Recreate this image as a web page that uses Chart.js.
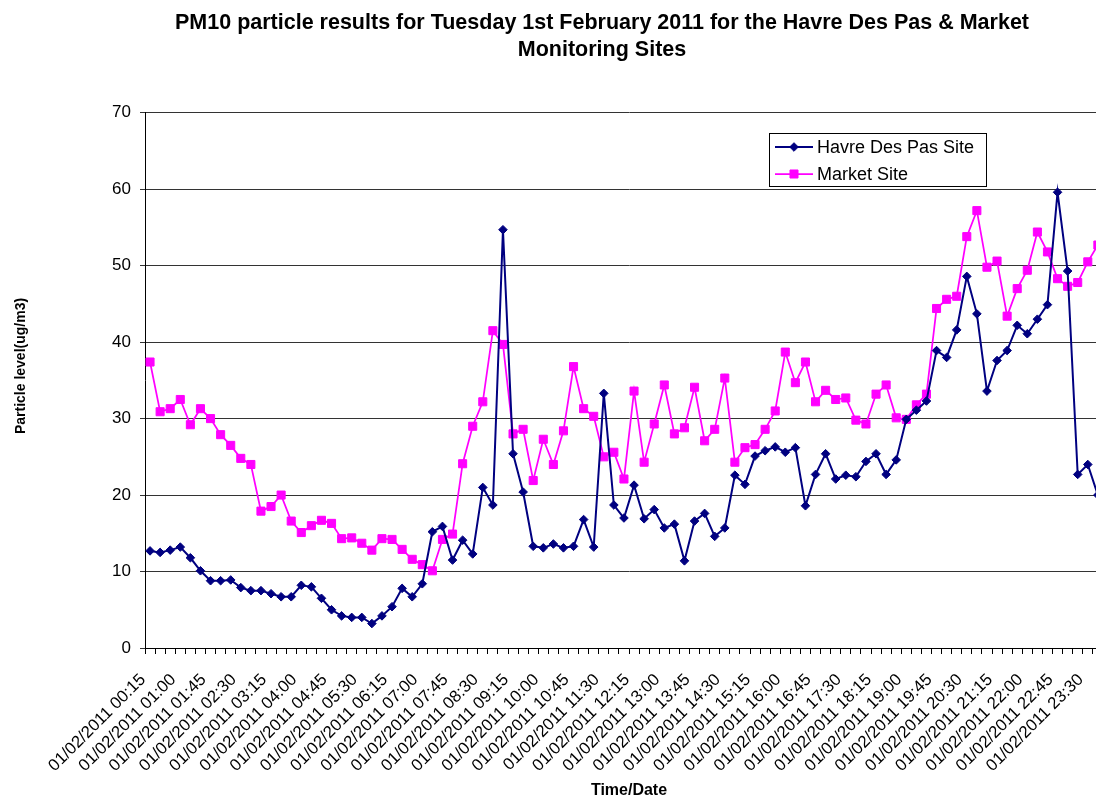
<!DOCTYPE html>
<html>
<head>
<meta charset="utf-8">
<script src="https://cdn.jsdelivr.net/npm/chart.js@4.4.0/dist/chart.umd.min.js"></script>
<style>
html,body{margin:0;padding:0;overflow:hidden;background:#fff;width:1096px;height:796px}
#wrap{position:absolute;left:0;top:0;width:1204px;height:800px}
</style>
</head>
<body>
<div id="wrap"><canvas id="c" width="1204" height="800"></canvas></div>
<script>
const chartTitle = ['PM10 particle results for Tuesday 1st February 2011 for the Havre Des Pas & Market', 'Monitoring Sites'];
const xAxisTitle = 'Time/Date';
const yAxisTitle = 'Particle level(ug/m3)';
const seriesNames = ['Havre Des Pas Site', 'Market Site'];

const timeLabels = [
  '01/02/2011 00:15','01/02/2011 00:30','01/02/2011 00:45','01/02/2011 01:00',
  '01/02/2011 01:15','01/02/2011 01:30','01/02/2011 01:45','01/02/2011 02:00',
  '01/02/2011 02:15','01/02/2011 02:30','01/02/2011 02:45','01/02/2011 03:00',
  '01/02/2011 03:15','01/02/2011 03:30','01/02/2011 03:45','01/02/2011 04:00',
  '01/02/2011 04:15','01/02/2011 04:30','01/02/2011 04:45','01/02/2011 05:00',
  '01/02/2011 05:15','01/02/2011 05:30','01/02/2011 05:45','01/02/2011 06:00',
  '01/02/2011 06:15','01/02/2011 06:30','01/02/2011 06:45','01/02/2011 07:00',
  '01/02/2011 07:15','01/02/2011 07:30','01/02/2011 07:45','01/02/2011 08:00',
  '01/02/2011 08:15','01/02/2011 08:30','01/02/2011 08:45','01/02/2011 09:00',
  '01/02/2011 09:15','01/02/2011 09:30','01/02/2011 09:45','01/02/2011 10:00',
  '01/02/2011 10:15','01/02/2011 10:30','01/02/2011 10:45','01/02/2011 11:00',
  '01/02/2011 11:15','01/02/2011 11:30','01/02/2011 11:45','01/02/2011 12:00',
  '01/02/2011 12:15','01/02/2011 12:30','01/02/2011 12:45','01/02/2011 13:00',
  '01/02/2011 13:15','01/02/2011 13:30','01/02/2011 13:45','01/02/2011 14:00',
  '01/02/2011 14:15','01/02/2011 14:30','01/02/2011 14:45','01/02/2011 15:00',
  '01/02/2011 15:15','01/02/2011 15:30','01/02/2011 15:45','01/02/2011 16:00',
  '01/02/2011 16:15','01/02/2011 16:30','01/02/2011 16:45','01/02/2011 17:00',
  '01/02/2011 17:15','01/02/2011 17:30','01/02/2011 17:45','01/02/2011 18:00',
  '01/02/2011 18:15','01/02/2011 18:30','01/02/2011 18:45','01/02/2011 19:00',
  '01/02/2011 19:15','01/02/2011 19:30','01/02/2011 19:45','01/02/2011 20:00',
  '01/02/2011 20:15','01/02/2011 20:30','01/02/2011 20:45','01/02/2011 21:00',
  '01/02/2011 21:15','01/02/2011 21:30','01/02/2011 21:45','01/02/2011 22:00',
  '01/02/2011 22:15','01/02/2011 22:30','01/02/2011 22:45','01/02/2011 23:00',
  '01/02/2011 23:15','01/02/2011 23:30','01/02/2011 23:45','02/02/2011 00:00'
];

const havreDesPas = [
  12.7, 12.5, 12.8, 13.2, 11.8, 10.1, 8.8, 8.8, 8.9, 7.9,
  7.5, 7.5, 7.1, 6.7, 6.7, 8.2, 8.0, 6.5, 5.0, 4.2,
  4.0, 4.0, 3.2, 4.2, 5.4, 7.8, 6.7, 8.4, 15.2, 15.9,
  11.5, 14.1, 12.3, 21.0, 18.7, 54.7, 25.4, 20.4, 13.3, 13.1,
  13.6, 13.1, 13.3, 16.8, 13.2, 33.3, 18.7, 17.0, 21.3, 16.9,
  18.1, 15.7, 16.2, 11.4, 16.6, 17.6, 14.6, 15.7, 22.6, 21.4,
  25.1, 25.8, 26.3, 25.6, 26.2, 18.6, 22.7, 25.4, 22.1, 22.6,
  22.4, 24.4, 25.4, 22.7, 24.6, 29.9, 31.1, 32.3, 38.9, 38.0,
  41.6, 48.6, 43.7, 33.6, 37.6, 38.9, 42.2, 41.1, 43.0, 44.9,
  59.6, 49.3, 22.7, 24.0, 20.0, null
];

const marketSite = [
  37.4, 30.9, 31.3, 32.5, 29.2, 31.3, 30.0, 27.9, 26.5, 24.8,
  24.0, 17.9, 18.5, 20.0, 16.6, 15.1, 16.0, 16.7, 16.3, 14.3,
  14.4, 13.7, 12.8, 14.3, 14.2, 12.9, 11.6, 10.9, 10.1, 14.2,
  14.9, 24.1, 29.0, 32.2, 41.5, 39.7, 28.0, 28.6, 21.9, 27.3,
  24.0, 28.4, 36.8, 31.3, 30.3, 25.0, 25.6, 22.1, 33.6, 24.3,
  29.3, 34.4, 28.0, 28.8, 34.1, 27.1, 28.6, 35.3, 24.3, 26.2,
  26.6, 28.6, 31.0, 38.7, 34.7, 37.4, 32.2, 33.7, 32.5, 32.7,
  29.8, 29.3, 33.2, 34.4, 30.1, 29.9, 31.8, 33.2, 44.4, 45.6,
  46.0, 53.8, 57.2, 49.8, 50.6, 43.4, 47.0, 49.4, 54.4, 51.8,
  48.3, 47.3, 47.8, 50.5, 52.7, null
];

const FONT = '"Liberation Sans", Arial, Helvetica, sans-serif';

const boxLegend = {
  id: 'boxLegend',
  afterDraw(chart) {
    const ctx = chart.ctx;
    const bx = 769.5, by = 133.5, bw = 217, bh = 53;
    ctx.save();
    ctx.fillStyle = '#ffffff';
    ctx.fillRect(bx, by, bw, bh);
    ctx.strokeStyle = '#000000';
    ctx.lineWidth = 1;
    ctx.strokeRect(bx, by, bw, bh);
    chart.data.datasets.forEach((ds, i) => {
      const y = 147 + i * 27;
      ctx.strokeStyle = ds.borderColor;
      ctx.lineWidth = ds.borderWidth;
      ctx.beginPath();
      ctx.moveTo(775, y);
      ctx.lineTo(813, y);
      ctx.stroke();
      ctx.fillStyle = ds.pointBackgroundColor;
      ctx.strokeStyle = ds.pointBorderColor;
      ctx.lineWidth = ds.pointBorderWidth;
      Chart.helpers.drawPoint(ctx, {pointStyle: ds.pointStyle, radius: ds.pointRadius, rotation: 0, borderWidth: ds.pointBorderWidth}, 794, y);
      ctx.fillStyle = '#000000';
      ctx.font = '18px ' + FONT;
      ctx.textBaseline = 'middle';
      ctx.textAlign = 'left';
      ctx.fillText(ds.label, 817, y + 1);
    });
    ctx.restore();
  }
};

const yTitlePlugin = {
  id: 'yTitlePlugin',
  afterDraw(chart) {
    const ctx = chart.ctx;
    ctx.save();
    ctx.translate(21, 366);
    ctx.rotate(-Math.PI / 2);
    ctx.fillStyle = '#000000';
    ctx.font = 'bold 14px ' + FONT;
    ctx.textAlign = 'center';
    ctx.textBaseline = 'middle';
    ctx.fillText(yAxisTitle, 0, 0);
    ctx.restore();
  }
};

new Chart(document.getElementById('c'), {
  type: 'line',
  data: {
    labels: timeLabels,
    datasets: [
      {
        label: seriesNames[0], data: havreDesPas,
        borderColor: '#000080', backgroundColor: '#000080', borderWidth: 2,
        pointStyle: 'rectRot', pointRadius: 4.3, pointBorderWidth: 1,
        pointBackgroundColor: '#000080', pointBorderColor: '#000080',
        tension: 0, fill: false
      },
      {
        label: seriesNames[1], data: marketSite,
        borderColor: '#FF00FF', backgroundColor: '#FF00FF', borderWidth: 1.75,
        pointStyle: 'rect', pointRadius: 5.7, pointBorderWidth: 1,
        pointBackgroundColor: '#FF00FF', pointBorderColor: '#FF00FF',
        tension: 0, fill: false
      }
    ]
  },
  options: {
    responsive: false,
    animation: false,
    devicePixelRatio: 1,
    layout: {padding: 0},
    plugins: {
      legend: {display: false},
      tooltip: {enabled: false},
      title: {
        display: true, text: chartTitle, color: '#000',
        font: {family: FONT, size: 21.5, weight: 'bold', lineHeight: 1.25},
        padding: {top: 10, bottom: 49}
      }
    },
    scales: {
      x: {
        offset: true,
        grid: {offset: true, drawOnChartArea: false, drawTicks: true, tickLength: 6, color: '#000'},
        border: {display: true, color: '#000', width: 1},
        ticks: {
          autoSkip: false, maxRotation: 45, minRotation: 45, color: '#000',
          font: {family: FONT, size: 16.8}, padding: 16, labelOffset: -7,
          callback: (v, i) => (i % 3 === 0 ? timeLabels[i] : '')
        },
        title: {display: true, text: xAxisTitle, color: '#000', font: {family: FONT, size: 16, weight: 'bold', lineHeight: 1.2}, padding: {top: 0, bottom: 0}},
        afterFit: s => { s.height = 152; }
      },
      y: {
        min: 0, max: 70,
        ticks: {stepSize: 10, color: '#000', font: {family: FONT, size: 17}, padding: 9},
        grid: {color: '#333333', tickLength: 5, lineWidth: 1},
        border: {display: true, color: '#000', width: 1},
        title: {display: false, text: yAxisTitle},
        afterFit: s => { s.width = 145; }
      },
      yR: {
        position: 'right', display: true,
        grid: {display: false}, ticks: {display: false}, border: {display: false},
        afterFit: s => { s.width = 91; }
      }
    }
  },
  plugins: [boxLegend, yTitlePlugin]
});
</script>
</body>
</html>
